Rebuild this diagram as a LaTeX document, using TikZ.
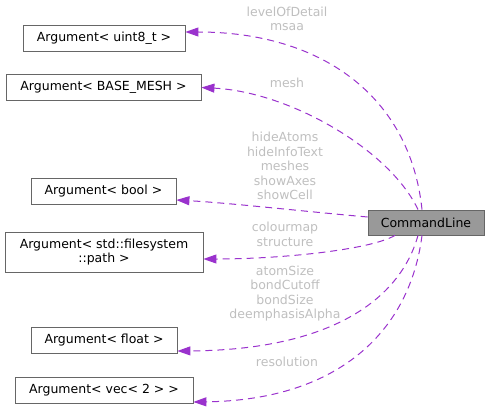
\documentclass[tikz,border=0pt]{standalone}
\usepackage{fontspec}
\setmainfont{DejaVu Sans}
\usetikzlibrary{arrows.meta,calc}
\definecolor{boxgray}{HTML}{666666}
\definecolor{clfill}{HTML}{999999}
\definecolor{edgepurple}{HTML}{9A32CD}
\definecolor{lblgray}{HTML}{BFBFBF}
\begin{document}
\begin{tikzpicture}[x=1pt,y=-1pt,
  cls/.style={draw=boxgray, fill=white, line width=0.8pt, inner sep=0pt, align=center,
    font=\fontsize{12.5}{14.5}\selectfont, minimum height=26pt},
  mainbox/.style={cls, fill=clfill},
  edge/.style={draw=edgepurple, line width=1pt, dash pattern=on 7pt off 5pt,
    -{Triangle[length=13pt,width=9pt,fill=edgepurple]}},
  lbl/.style={text=lblgray, align=center, font=\fontsize{12.5}{14.5}\selectfont, inner sep=0pt}
]
\useasboundingbox (0,0) rectangle (489,409);

\node[cls, minimum width=162pt] (u8) at (104,38) {Argument< uint8\_t >};
\node[cls, minimum width=195pt] (bm) at (103.5,87.5) {Argument< BASE\_MESH >};
\node[cls, minimum width=145pt] (bo) at (103.5,191.5) {Argument< bool >};
\node[cls, minimum width=198pt, minimum height=40pt] (fs) at (104,252) {Argument< std::filesystem\\::path >};
\node[cls, minimum width=146pt] (fl) at (104,340.5) {Argument< float >};
\node[cls, minimum width=178pt] (v2) at (104,390) {Argument< vec< 2 > >};
\node[mainbox, minimum width=116pt, minimum height=25pt] (cl) at (426,222.5) {CommandLine};

\draw[edge] ($(cl.north)+(-4,0)$) .. controls (410,95) and (320,32) .. ($(u8.east)+(0,-6)$);
\draw[edge] ($(cl.north)+(-8,0)$) .. controls (390,150) and (290,92) .. ($(bm.east)+(0,0)$);
\draw[edge] ($(cl.west)+(0,-5.5)$) .. controls (300,211) and (230,203) .. ($(bo.east)+(0,8.5)$);
\draw[edge] ($(cl.south)+(-31,0)$) .. controls (370,250) and (280,259) .. ($(fs.east)+(0,7)$);
\draw[edge] ($(cl.south)+(-8,0)$) .. controls (400,300) and (330,350) .. ($(fl.east)+(0,10.5)$);
\draw[edge] ($(cl.south)+(-4,0)$) .. controls (410,330) and (340,400) .. ($(v2.east)+(0,12)$);

\node[lbl] (l1) at (287,19) {levelOfDetail\\msaa};
\node[lbl] (l2) at (287,83) {mesh};
\node[lbl] (l3) at (285,166) {hideAtoms\\hideInfoText\\meshes\\showAxes\\showCell};
\node[lbl] (l4) at (285,234.5) {colourmap\\structure};
\node[lbl] (l5) at (285,293.5) {atomSize\\bondCutoff\\bondSize\\deemphasisAlpha};
\node[lbl] (l6) at (287,362) {resolution};
\end{tikzpicture}
\end{document}
